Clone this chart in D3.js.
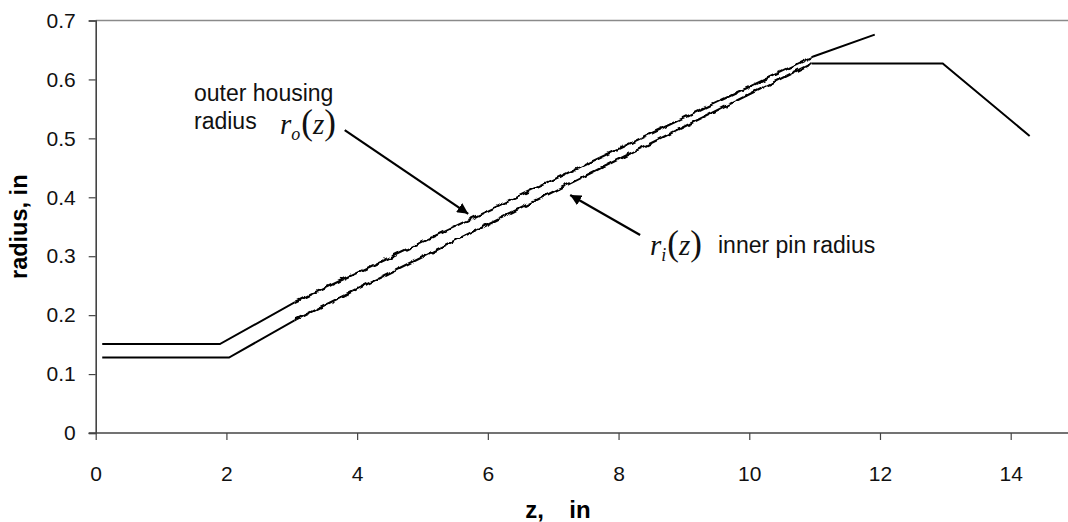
<!DOCTYPE html>
<html>
<head>
<meta charset="utf-8">
<script src="https://cdn.jsdelivr.net/npm/d3@7"></script>
<style>
  html, body { margin: 0; padding: 0; background: #fff; }
  svg { display: block; }
</style>
</head>
<body>
<svg id="chart" width="1068" height="522"></svg>
<script>
// Outer housing radius profile r_o(z)
const outerZ = [0.1, 1.9, 3.05, 10.98, 11.92];
const outerR = [0.151, 0.151, 0.222, 0.639, 0.676];

// Inner pin radius profile r_i(z)
const innerZ = [0.1, 2.04, 3.07, 10.95, 12.96, 14.29];
const innerR = [0.128, 0.128, 0.193, 0.627, 0.627, 0.504];

// z-range of the machined (rippled) taper
const taperZ = [3.0, 11.0];

const xTicks = [0, 2, 4, 6, 8, 10, 12, 14];
const yTicks = [0, 0.1, 0.2, 0.3, 0.4, 0.5, 0.6, 0.7];

const svg = d3.select("#chart");
const W = 1068, H = 522;

const x = d3.scaleLinear().domain([0, 14]).range([95.7, 1010.7]);
const y = d3.scaleLinear().domain([0, 0.7]).range([433, 20.5]);
const xRight = W;

const font = "Arial, 'Liberation Sans', Helvetica, sans-serif";
const serif = "'Times New Roman', 'Liberation Serif', Times, serif";

const defs = svg.append("defs");

// smooth ripple texture for the taper section
const ripple = defs.append("filter").attr("id", "ripple")
  .attr("filterUnits", "userSpaceOnUse")
  .attr("x", 0).attr("y", 0).attr("width", W).attr("height", H);
ripple.append("feTurbulence")
  .attr("type", "fractalNoise").attr("baseFrequency", "0.16 0.16")
  .attr("numOctaves", 1).attr("seed", 7).attr("result", "noise");
ripple.append("feGaussianBlur")
  .attr("in", "noise").attr("stdDeviation", 1.2).attr("result", "soft");
ripple.append("feDisplacementMap")
  .attr("in", "SourceGraphic").attr("in2", "soft")
  .attr("scale", 7).attr("xChannelSelector", "R").attr("yChannelSelector", "G");

defs.append("clipPath").attr("id", "clip-taper")
  .append("rect")
  .attr("x", x(taperZ[0]) + 3).attr("y", 0)
  .attr("width", x(taperZ[1]) - x(taperZ[0]) - 6).attr("height", H);

const plainPart = defs.append("clipPath").attr("id", "clip-plain");
plainPart.append("rect").attr("x", 0).attr("y", 0)
  .attr("width", x(taperZ[0]) + 3).attr("height", H);
plainPart.append("rect").attr("x", x(taperZ[1]) - 3).attr("y", 0)
  .attr("width", W).attr("height", H);

// top frame line
svg.append("line")
  .attr("x1", x(0)).attr("x2", xRight)
  .attr("y1", y(0.7)).attr("y2", y(0.7))
  .attr("stroke", "#8a8a8a").attr("stroke-width", 1.5);

// y axis
const yAxis = svg.append("g")
  .attr("transform", `translate(${x(0)},0)`)
  .call(d3.axisLeft(y).tickValues(yTicks).tickSize(7).tickPadding(13)
    .tickFormat(d => d === 0 ? "0" : d3.format(".1f")(d)));
yAxis.select(".domain").attr("stroke", "#444").attr("stroke-width", 1.6);
yAxis.selectAll(".tick line").attr("stroke", "#444").attr("stroke-width", 1.2);
yAxis.selectAll("text").attr("font-family", font).attr("font-size", 21).attr("fill", "#111");

// x axis
const xAxis = svg.append("g")
  .attr("transform", `translate(0,${y(0)})`)
  .call(d3.axisBottom(x).tickValues(xTicks).tickSize(7).tickPadding(26)
    .tickFormat(d3.format("d")));
xAxis.select(".domain").remove();
xAxis.append("line")
  .attr("x1", x(0) - 7).attr("x2", xRight)
  .attr("stroke", "#444").attr("stroke-width", 1.6);
xAxis.selectAll(".tick line").attr("stroke", "#444").attr("stroke-width", 1.2);
xAxis.selectAll("text").attr("font-family", font).attr("font-size", 21).attr("fill", "#111");

// axis titles
svg.append("text")
  .attr("x", 558).attr("y", 518)
  .attr("text-anchor", "middle")
  .attr("font-family", font).attr("font-size", 24).attr("font-weight", "bold")
  .attr("xml:space", "preserve")
  .attr("word-spacing", 6)
  .text("z,  in");

svg.append("text")
  .attr("transform", `translate(27,${(y(0) + y(0.7)) / 2}) rotate(-90)`)
  .attr("text-anchor", "middle")
  .attr("font-family", font).attr("font-size", 23.5).attr("font-weight", "bold")
  .text("radius, in");

// profile lines
const line = d3.line().x(d => x(d[0])).y(d => y(d[1]));
const outer = outerZ.map((z, i) => [z, outerR[i]]);
const inner = innerZ.map((z, i) => [z, innerR[i]]);
const profiles = [outer, inner];

svg.append("g").attr("clip-path", "url(#clip-plain)")
  .selectAll("path").data(profiles).join("path")
  .attr("d", line)
  .attr("fill", "none").attr("stroke", "#000").attr("stroke-width", 2);

svg.append("g").attr("clip-path", "url(#clip-taper)")
  .append("g").attr("filter", "url(#ripple)")
  .selectAll("path").data(profiles).join("path")
  .attr("d", line)
  .attr("fill", "none").attr("stroke", "#000").attr("stroke-width", 2.2);

// arrow marker
defs.append("marker")
  .attr("id", "head").attr("viewBox", "0 0 10 10")
  .attr("refX", 10).attr("refY", 5)
  .attr("markerWidth", 5).attr("markerHeight", 5)
  .attr("markerUnits", "strokeWidth")
  .attr("orient", "auto")
  .append("path").attr("d", "M0,0 L10,5 L0,10 Z").attr("fill", "#000");

// annotation arrows
const arrows = [
  { from: [3.81, 0.514], to: [5.70, 0.372] },
  { from: [8.33, 0.336], to: [7.26, 0.404] }
];
svg.selectAll(".arrow").data(arrows).join("line")
  .attr("class", "arrow")
  .attr("x1", d => x(d.from[0])).attr("y1", d => y(d.from[1]))
  .attr("x2", d => x(d.to[0])).attr("y2", d => y(d.to[1]))
  .attr("stroke", "#000").attr("stroke-width", 2.2)
  .attr("marker-end", "url(#head)");

// outer housing label
svg.append("text").attr("x", 194).attr("y", 101)
  .attr("font-family", font).attr("font-size", 23).attr("fill", "#111")
  .text("outer housing");
svg.append("text").attr("x", 194).attr("y", 129)
  .attr("font-family", font).attr("font-size", 23).attr("fill", "#111")
  .text("radius");

const ro = svg.append("text").attr("x", 280).attr("y", 134)
  .attr("font-family", serif).attr("font-size", 29).attr("fill", "#111");
ro.append("tspan").attr("font-style", "italic").text("r");
ro.append("tspan").attr("font-style", "italic").attr("font-size", 18).attr("dy", 6).text("o");
ro.append("tspan").attr("dy", -6).attr("dx", 1).attr("font-size", 35).text("(");
ro.append("tspan").attr("font-style", "italic").text("z");
ro.append("tspan").attr("font-size", 35).text(")");

// inner pin label
const ri = svg.append("text").attr("x", 650).attr("y", 255)
  .attr("font-family", serif).attr("font-size", 29).attr("fill", "#111");
ri.append("tspan").attr("font-style", "italic").text("r");
ri.append("tspan").attr("font-style", "italic").attr("font-size", 18).attr("dy", 6).text("i");
ri.append("tspan").attr("dy", -6).attr("dx", 1).attr("font-size", 35).text("(");
ri.append("tspan").attr("font-style", "italic").text("z");
ri.append("tspan").attr("font-size", 35).text(")");

svg.append("text").attr("x", 718).attr("y", 253)
  .attr("font-family", font).attr("font-size", 23).attr("fill", "#111")
  .text("inner pin radius");
</script>
</body>
</html>
